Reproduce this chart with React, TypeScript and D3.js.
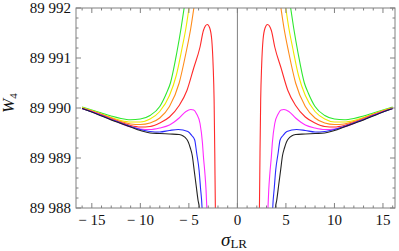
import React from "react";
import * as d3 from "d3";

// tick values + labels
const xMajor = [-15, -10, -5, 0, 5, 10, 15];
const xMajorLabels = ["\u2212 15", "\u2212 10", "\u2212 5", "0", "5", "10", "15"];
const yMajor = [89988, 89989, 89990, 89991, 89992];
const yMajorLabels = ["89 988", "89 989", "89 990", "89 991", "89 992"];

// curves are symmetric in sigma_LR: right half, [sigma, W4]
const green = [[5.45, 89992.05], [5.8, 89991.6], [6.25, 89991.1], [6.9, 89990.5], [7.3, 89990.3], [8, 89990.03], [9, 89989.85], [10, 89989.78], [11, 89989.765], [12, 89989.79], [13, 89989.84], [14, 89989.9], [15, 89989.96], [16, 89990.02]];
const yellow = [[4.95, 89992.05], [5.3, 89991.6], [5.7, 89991.2], [6.3, 89990.65], [7, 89990.25], [8, 89989.93], [9, 89989.78], [10, 89989.72], [11, 89989.72], [12, 89989.75], [13, 89989.81], [14, 89989.88], [15, 89989.95], [16, 89990.01]];
const orange = [[4.45, 89992.05], [4.8, 89991.6], [5.3, 89991.1], [6, 89990.5], [7, 89990.03], [8, 89989.8], [9, 89989.7], [10, 89989.67], [11, 89989.68], [12, 89989.73], [13, 89989.8], [14, 89989.87], [15, 89989.94], [16, 89990.0]];
const red = [[2.24, 89987.8], [2.27, 89988.0], [2.33, 89989.1], [2.4, 89990.16], [2.5, 89990.85], [2.64, 89991.36], [2.85, 89991.6], [3.1, 89991.67], [3.5, 89991.55], [3.85, 89991.22], [4.5, 89990.8], [5.2, 89990.35], [6, 89990.05], [7, 89989.82], [8, 89989.7], [9, 89989.63], [10, 89989.62], [11, 89989.65], [12, 89989.71], [13, 89989.78], [14, 89989.86], [15, 89989.93], [16, 89989.99]];
const magenta = [[3.1, 89987.8], [3.15, 89988.0], [3.23, 89988.36], [3.35, 89988.7], [3.5, 89989.03], [3.6, 89989.3], [3.85, 89989.69], [4.2, 89989.88], [4.5, 89989.96], [4.8, 89989.97], [5.3, 89989.93], [6, 89989.8], [7, 89989.66], [8, 89989.6], [9, 89989.57], [10, 89989.58], [11, 89989.62], [12, 89989.69], [13, 89989.77], [14, 89989.85], [15, 89989.93], [16, 89989.99]];
const blue = [[3.6, 89987.8], [3.64, 89988.0], [3.8, 89988.4], [3.95, 89988.76], [4.19, 89989.09], [4.4, 89989.36], [4.7, 89989.45], [5.1, 89989.53], [6.1, 89989.57], [7, 89989.55], [8, 89989.52], [9, 89989.53], [10, 89989.57], [11, 89989.63], [12, 89989.7], [13, 89989.77], [14, 89989.85], [15, 89989.92], [16, 89989.99]];
const black = [[3.88, 89987.8], [3.92, 89988.0], [4.05, 89988.15], [4.25, 89988.45], [4.45, 89988.75], [4.65, 89989.05], [4.85, 89989.2], [5.2, 89989.37], [6, 89989.47], [7, 89989.48], [8, 89989.49], [9, 89989.5], [10, 89989.55], [11, 89989.62], [12, 89989.69], [13, 89989.76], [14, 89989.84], [15, 89989.92], [16, 89989.99]];

const series = [
  { name: "green", pts: green, color: "#2ee82e" },
  { name: "yellow", pts: yellow, color: "#f0e800" },
  { name: "orange", pts: orange, color: "#ff8c1a" },
  { name: "red", pts: red, color: "#ff2a2a" },
  { name: "magenta", pts: magenta, color: "#ff2aff" },
  { name: "blue", pts: blue, color: "#2a2aff" },
  { name: "black", pts: black, color: "#222222" },
];

const W = 399;
const H = 251;
const FONT = "Liberation Serif";
const FRAME = "#808080";

const margin = { top: 8, right: 4, bottom: 43, left: 76 };
const x = d3.scaleLinear().domain([-16.63, 16.24]).range([margin.left, W - margin.right]);
const y = d3.scaleLinear().domain([89988, 89992]).range([H - margin.bottom, margin.top]);
const x0 = margin.left, x1 = W - margin.right, y0 = H - margin.bottom, y1 = margin.top;

const xMinor = d3.range(-16, 17, 1);
const yMinor = d3.range(0, 21).map((i) => 89988 + i * 0.2);

const line = d3.line().x((d) => x(d[0])).y((d) => y(d[1])).curve(d3.curveMonotoneX);

const Chart = () => {
  return (
    <svg width={W} height={H} style={{ position: "absolute", left: 0, top: 0, background: "#fff" }}>
      <defs>
        <clipPath id="plotclip">
          <rect x={x0} y={y1} width={x1 - x0} height={y0 - y1} />
        </clipPath>
      </defs>

      {/* vertical line at 0 */}
      <line x1={x(0)} x2={x(0)} y1={y1} y2={y0} stroke={FRAME} strokeWidth={1} />

      <g clipPath="url(#plotclip)" fill="none" strokeWidth={1.1}>
        {series.map((s) => {
          const left = s.pts.map((p) => [-p[0], p[1]]).reverse();
          return (
            <g key={s.name} stroke={s.color}>
              <path d={line(left)} />
              <path d={line(s.pts)} />
            </g>
          );
        })}
      </g>

      {/* frame + inward ticks */}
      <g stroke={FRAME} strokeWidth={1}>
        {xMinor.map((v) => {
          const len = xMajor.includes(v) ? 5 : 2.5;
          return (
            <g key={"xt" + v}>
              <line x1={x(v)} x2={x(v)} y1={y0} y2={y0 - len} />
              <line x1={x(v)} x2={x(v)} y1={y1} y2={y1 + len} />
            </g>
          );
        })}
        {yMinor.map((v, i) => {
          const len = i % 5 === 0 ? 5 : 2.5;
          return (
            <g key={"yt" + i}>
              <line x1={x0} x2={x0 + len} y1={y(v)} y2={y(v)} />
              <line x1={x1} x2={x1 - len} y1={y(v)} y2={y(v)} />
            </g>
          );
        })}
        <rect x={x0} y={y1} width={x1 - x0} height={y0 - y1} fill="none" />
      </g>

      <g fontFamily={FONT} fontSize={15} fill="#111">
        {xMajor.map((v, i) => (
          <text key={"xl" + v} x={x(v)} y={225} textAnchor="middle">{xMajorLabels[i]}</text>
        ))}
        {yMajor.map((v, i) => (
          <text key={"yl" + v} x={71} y={y(v)} dy="0.35em" textAnchor="end">{yMajorLabels[i]}</text>
        ))}
      </g>

      {/* axis labels */}
      <text x={221} y={246} fontFamily={FONT} fill="#111">
        <tspan fontStyle="italic" fontSize={19}>{"\u03c3"}</tspan>
        <tspan dy={2} fontSize={13}>LR</tspan>
      </text>
      <text transform="translate(14,113)rotate(-90)" fontFamily={FONT} fill="#111">
        <tspan fontStyle="italic" fontSize={17}>W</tspan>
        <tspan dy={3} fontSize={11}>4</tspan>
      </text>
    </svg>
  );
};

export default function App() {
  return <Chart />;
}
